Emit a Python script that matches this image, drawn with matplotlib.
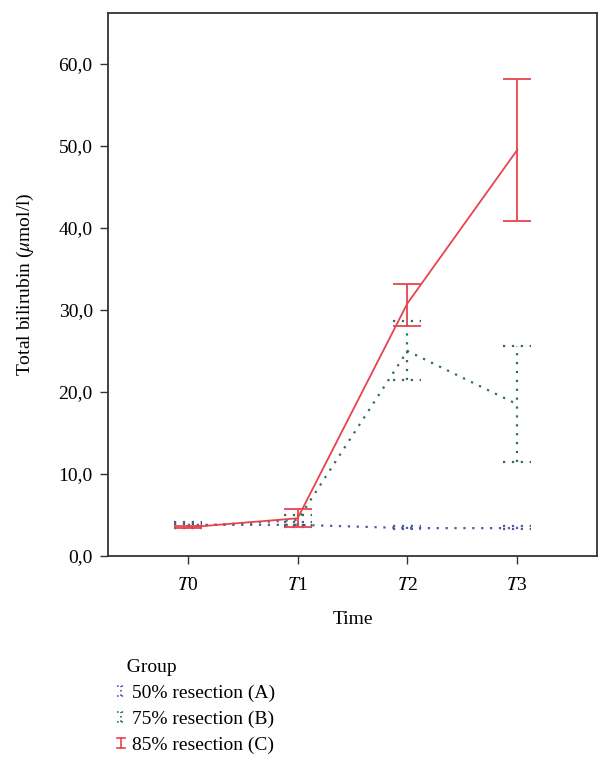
import numpy as np
import matplotlib
matplotlib.use("Agg")
import matplotlib.pyplot as plt
from matplotlib.legend_handler import HandlerBase
from matplotlib.lines import Line2D

plt.rcParams['font.family'] = ['Liberation Serif', 'DejaVu Serif']
plt.rcParams['mathtext.fontset'] = 'stix'

# ---- data
times = ['$T$0', '$T$1', '$T$2', '$T$3']
groups = ['50% resection (A)', '75% resection (B)', '85% resection (C)']
colors = ['#4a5aa8', '#2f6f55', '#e8434f']
styles = [(0, (1, 3)), (0, (1, 3)), '-']

mean_a = [3.8, 3.8, 3.4, 3.4]
lo_a = [3.4, 3.5, 3.3, 3.3]
hi_a = [4.1, 4.1, 3.6, 3.6]

mean_b = [3.6, 4.4, 25.0, 18.5]
lo_b = [3.4, 3.8, 21.5, 11.5]
hi_b = [3.9, 5.0, 28.6, 25.6]

mean_c = [3.5, 4.6, 30.8, 49.5]
lo_c = [3.4, 3.5, 28.0, 40.8]
hi_c = [3.6, 5.7, 33.2, 58.2]

means = [mean_a, mean_b, mean_c]
los = [lo_a, lo_b, lo_c]
his = [hi_a, hi_b, hi_c]

cap = 0.127  # half width of the caps, in x units
fs = 14

fig = plt.figure(figsize=(6.12, 7.76), dpi=100)
ax = fig.add_axes([0.1765, 0.2835, 0.7990, 0.6997])

x = np.arange(len(times))
for m, lo, hi, c, ls in zip(means, los, his, colors, styles):
    lw = 1.3 if ls == '-' else 1.6
    ax.plot(x, m, color=c, ls=ls, lw=lw)
    ax.vlines(x, lo, hi, color=c, ls=ls, lw=lw)
    ax.hlines(lo, x - cap, x + cap, color=c, ls=ls, lw=lw)
    ax.hlines(hi, x - cap, x + cap, color=c, ls=ls, lw=lw)

ax.set_xlim(-0.727, 3.727)
ax.set_ylim(0, 66.2)
ax.set_xticks(x)
ax.set_xticklabels(times)
ax.set_yticks(np.arange(0, 61, 10))
ax.set_yticklabels(['%d,0' % v for v in range(0, 61, 10)])
ax.tick_params(direction='out', length=6, width=1, labelsize=fs, color='#333333')
ax.tick_params(axis='x', pad=9)
ax.tick_params(axis='y', pad=5)
for s in ax.spines.values():
    s.set_linewidth(1.3)
    s.set_color('#333333')

ax.set_xlabel('Time', fontsize=fs)
ax.set_ylabel(r'Total bilirubin ($\mu$mol/l)', fontsize=fs)
ax.xaxis.set_label_coords(0.5, -0.101)
ax.yaxis.set_label_coords(-0.148, 0.5)


class ErrHandler(HandlerBase):
    # little error bar glyph for the legend
    def create_artists(self, legend, orig, xd, yd, width, height, fontsize, trans):
        c = orig.get_color()
        ls = orig.get_linestyle()
        cx = width / 2
        h = height * 0.75
        y0 = height / 2 - h / 2
        y1 = height / 2 + h / 2
        arts = [Line2D([cx, cx], [y0, y1], color=c, ls=ls, lw=1.2, transform=trans),
                Line2D([cx - 3, cx + 3], [y0, y0], color=c, ls=ls, lw=1.2, transform=trans),
                Line2D([cx - 3, cx + 3], [y1, y1], color=c, ls=ls, lw=1.2, transform=trans)]
        return arts


proxies = [Line2D([], [], color=c, ls=':' if ls != '-' else '-') for c, ls in zip(colors, styles)]
leg = fig.legend(proxies, groups, title='  Group', loc='upper left',
                 bbox_to_anchor=(0.175, 0.163), frameon=False, fontsize=fs,
                 title_fontsize=fs, handlelength=0.45, handletextpad=0.35,
                 labelspacing=0.42, borderpad=0, alignment='left',
                 handler_map={Line2D: ErrHandler()})

fig.savefig('out.png', dpi=100)
